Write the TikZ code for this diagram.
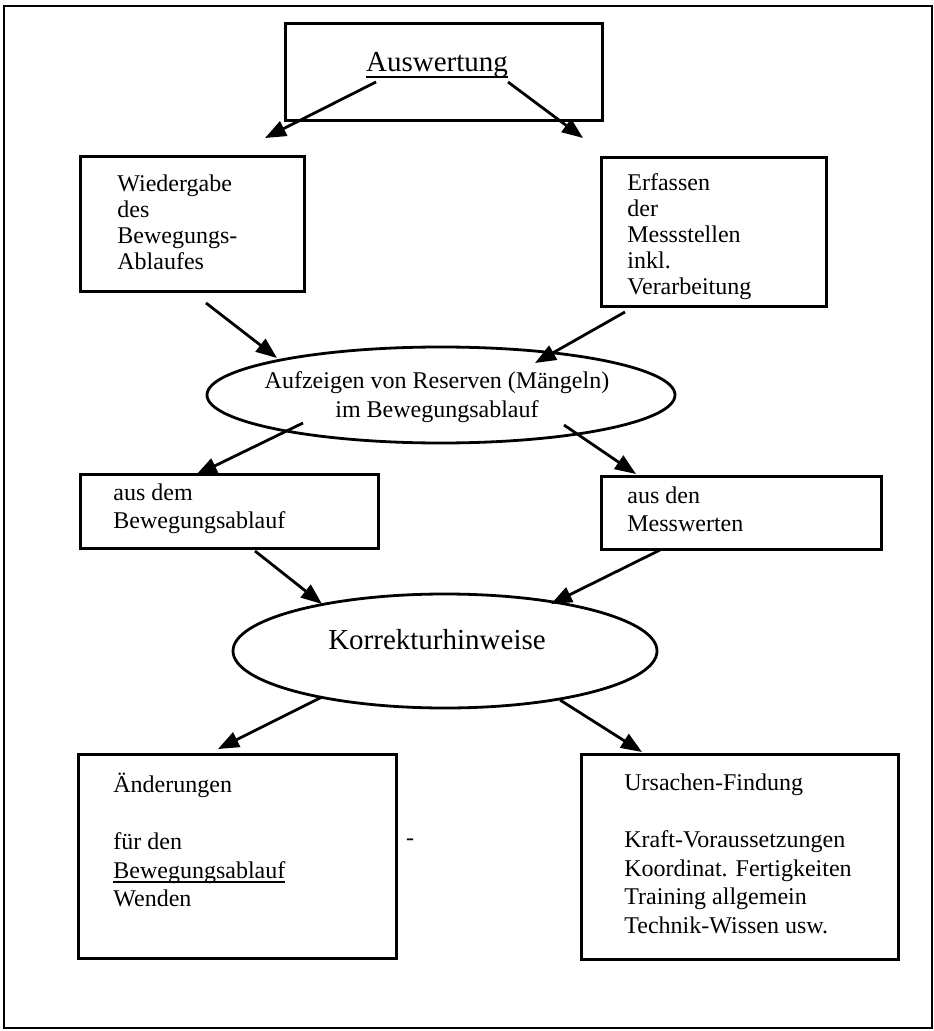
\documentclass[tikz,border=0pt]{standalone}
\usepackage{fontspec}
\setmainfont{Liberation Serif}
\usetikzlibrary{arrows.meta,shapes.geometric}

% underline just below the baseline
\newcommand{\unterstr}[1]{\setbox0\hbox{#1}\rlap{\rule[-0.2em]{\wd0}{0.06em}}\box0}

\tikzset{
  kasten/.style={draw, line width=1.4pt, anchor=north west, inner sep=0pt},
  oval/.style={draw, ellipse, line width=1.4pt, inner sep=0pt},
  inhalt/.style={anchor=west, align=left, inner sep=0pt, font=\fontsize{12pt}{13pt}\selectfont},
  gross/.style={inner sep=0pt, font=\fontsize{14.5pt}{17pt}\selectfont},
  pfeil/.style={-{Triangle[length=10.5pt,width=8pt]}, line width=1.4pt},
}

\begin{document}
\begin{tikzpicture}[x=0.5pt, y=-0.5pt]
    \useasboundingbox (0,0) rectangle (933,1031);
    % outer frame
    \draw[line width=0.9pt] (4,6) rectangle (932,1028);

    % boxes and ovals
    \node[kasten, minimum width=158.5pt, minimum height=48.5pt] (ausw) at (284,22) {};
    \node[kasten, minimum width=112pt, minimum height=67.5pt] (wied) at (79,155) {};
    \node[kasten, minimum width=112.5pt, minimum height=74.5pt] (erf) at (600,156) {};
    \node[oval, minimum width=234pt, minimum height=48pt] (res) at (441,395) {};
    \node[kasten, minimum width=149pt, minimum height=37pt] (ausdem) at (79,473) {};
    \node[kasten, minimum width=140pt, minimum height=36.5pt] (ausden) at (600,475) {};
    \node[oval, minimum width=212pt, minimum height=57pt] (korr) at (445,651) {};
    \node[kasten, minimum width=159pt, minimum height=102pt] (aend) at (77,753) {};
    \node[kasten, minimum width=158.5pt, minimum height=102.5pt] (urs) at (580,753) {};

    % texts
    \node[gross, anchor=base] (t-ausw) at (437,72) {\unterstr{Auswertung}};
    \node[inhalt] (t-wied) at (117,222) {Wiedergabe\\des\\Bewegungs-\\Ablaufes};
    \node[inhalt] (t-erf) at (627,237) {Erfassen\\der\\Messstellen\\inkl.\\Verarbeitung};
    \node[inhalt, anchor=center, align=center, font=\fontsize{12pt}{14.5pt}\selectfont] (t-res) at (437,397)
        {Aufzeigen von Reserven (Mängeln)\\im Bewegungsablauf};
    \node[inhalt, font=\fontsize{12pt}{14pt}\selectfont] (t-ausdem) at (113,509) {aus dem\\Bewegungsablauf};
    \node[inhalt, font=\fontsize{12pt}{14pt}\selectfont] (t-ausden) at (627,509) {aus den\\Messwerten};
    \node[gross] (t-korr) at (437,640) {Korrekturhinweise};
    \node[inhalt, font=\fontsize{12pt}{14.25pt}\selectfont] (t-aend) at (113,840)
        {Änderungen\\[14.25pt]für den\\\unterstr{Bewegungsablauf}\\Wenden};
    \node[inhalt, font=\fontsize{12pt}{14.25pt}\selectfont] (t-urs) at (624,854)
        {Ursachen-Findung\\[14.25pt]Kraft-Voraussetzungen\\Koordinat. Fertigkeiten\\Training allgemein\\Technik-Wissen usw.};
    \node[inhalt, anchor=center] (t-strich) at (410,842) {-};

    % arrow ends
    \coordinate (ausw-l) at (376,82);   \coordinate (wied-o) at (265,138);
    \coordinate (ausw-r) at (508,82);   \coordinate (erf-o) at (583,138);
    \coordinate (wied-u) at (206,303);  \coordinate (res-ol) at (277,358);
    \coordinate (erf-u) at (625,312);   \coordinate (res-or) at (535,363);
    \coordinate (res-ul) at (303,423);  \coordinate (ausdem-o) at (196,475);
    \coordinate (res-ur) at (564,425);  \coordinate (ausden-o) at (636,474);
    \coordinate (ausdem-u) at (255,551); \coordinate (korr-ol) at (322,604);
    \coordinate (ausden-u) at (660,550); \coordinate (korr-or) at (551,604);
    \coordinate (korr-ul) at (322,697); \coordinate (aend-o) at (218,749);
    \coordinate (korr-ur) at (560,700); \coordinate (urs-o) at (642,752);

    % arrows
    \foreach \von/\nach in {ausw-l/wied-o, ausw-r/erf-o, wied-u/res-ol, erf-u/res-or,
                            res-ul/ausdem-o, res-ur/ausden-o, ausdem-u/korr-ol, ausden-u/korr-or,
                            korr-ul/aend-o, korr-ur/urs-o}
        \draw[pfeil] (\von) -- (\nach);
\end{tikzpicture}
\end{document}
